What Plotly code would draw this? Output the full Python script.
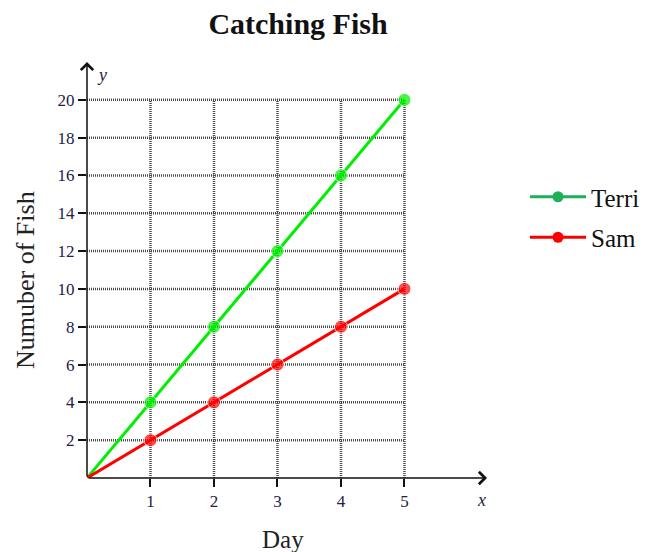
import plotly.graph_objects as go

days = [0, 1, 2, 3, 4, 5]
terri = [0, 4, 8, 12, 16, 20]
sam = [0, 2, 4, 6, 8, 10]
x_ticks = [1, 2, 3, 4, 5]
y_ticks = [2, 4, 6, 8, 10, 12, 14, 16, 18, 20]

SERIF = "Liberation Serif, Times New Roman, serif"
X_MAX, Y_MAX = 6.3, 22.0
GRID_X, GRID_Y = max(x_ticks), max(y_ticks)

# page body has an 8px margin; figure coordinates are shifted accordingly
OFF = 8
W, H = 651 - OFF, 552 - OFF
L, T, R, B = 87 - OFF, 62 - OFF, 487 - OFF, 478 - OFF
PW, PH = R - L, B - T


def px2paper(px, py):
    return (px - OFF - L) / PW, 1 - (py - OFF - T) / PH


fig = go.Figure()

msize = [0] + [13] * (len(days) - 1)
fig.add_trace(go.Scatter(x=days, y=terri, mode="lines+markers", showlegend=False,
                         line=dict(color="#00ee00", width=3),
                         marker=dict(color="#00ee00", size=msize)))
fig.add_trace(go.Scatter(x=days, y=sam, mode="lines+markers", showlegend=False,
                         line=dict(color="#ff0000", width=3),
                         marker=dict(color="#ff0000", size=msize)))
# legend entries
fig.add_trace(go.Scatter(x=[None], y=[None], mode="lines+markers", name="Terri",
                         legendgroup="a",
                         line=dict(color="#1db157", width=3), marker=dict(color="#1db157", size=11)))
fig.add_trace(go.Scatter(x=[None], y=[None], mode="lines+markers", name="Sam",
                         legendgroup="b",
                         line=dict(color="#ff0000", width=3), marker=dict(color="#ff0000", size=11)))

shapes = []
grid_line = dict(color="#4a4a4a", width=2.5, dash="1px,1px")
for xv in x_ticks:
    shapes.append(dict(type="line", xref="x", yref="y", x0=xv, x1=xv, y0=0, y1=GRID_Y,
                       line=grid_line, layer="below"))
for yv in y_ticks:
    shapes.append(dict(type="line", xref="x", yref="y", x0=0, x1=GRID_X, y0=yv, y1=yv,
                       line=grid_line, layer="below"))

ax_x, ax_y = px2paper(481, 500)
ay_x, ay_y = px2paper(102, 75)
day_x, day_y = px2paper(283, 539)
nf_x, nf_y = px2paper(25, 280)

annotations = [
    dict(x=X_MAX, y=0, ax=0, ay=0, xref="x", yref="y", axref="x", ayref="y", text="",
         showarrow=True, arrowhead=4, arrowsize=1.6, arrowwidth=1.5, arrowcolor="#111111"),
    dict(x=0, y=Y_MAX, ax=0, ay=0, xref="x", yref="y", axref="x", ayref="y", text="",
         showarrow=True, arrowhead=4, arrowsize=1.6, arrowwidth=1.5, arrowcolor="#111111"),
    dict(x=ax_x, y=ax_y, xref="paper", yref="paper", text="<i>x</i>",
         xanchor="center", yanchor="middle",
         showarrow=False, font=dict(family=SERIF, size=18, color="#222244")),
    dict(x=ay_x, y=ay_y, xref="paper", yref="paper", text="<i>y</i>",
         xanchor="center", yanchor="middle",
         showarrow=False, font=dict(family=SERIF, size=18, color="#222244")),
    dict(x=day_x, y=day_y, xref="paper", yref="paper", text="Day",
         showarrow=False, font=dict(family=SERIF, size=25, color="#222222"),
         xanchor="center", yanchor="middle"),
    dict(x=nf_x, y=nf_y, xref="paper", yref="paper", text="Numuber of Fish",
         showarrow=False, textangle=-90, font=dict(family=SERIF, size=26, color="#222222"),
         xanchor="center", yanchor="middle"),
]

leg_x, leg_y = px2paper(525, 174)

fig.update_layout(
    width=W, height=H,
    margin=dict(l=L, r=W - R, t=T, b=H - B, autoexpand=False),
    paper_bgcolor="white", plot_bgcolor="white",
    title=dict(text="<b>Catching Fish</b>", x=(298 - OFF) / W, xref="container", xanchor="center",
               y=1 - (23 - OFF) / H, yref="container", yanchor="middle",
               font=dict(family=SERIF, size=30, color="#111111")),
    xaxis=dict(range=[0, X_MAX], tickvals=x_ticks, ticktext=[str(v) for v in x_ticks],
               showgrid=False, zeroline=False, showline=False,
               ticks="outside", ticklen=8, tickwidth=1.5, tickcolor="#111111",
               tickfont=dict(family=SERIF, size=17, color="#222244"), fixedrange=True),
    yaxis=dict(range=[0, Y_MAX], tickvals=y_ticks, ticktext=[str(v) for v in y_ticks],
               showgrid=False, zeroline=False, showline=False,
               ticks="outside", ticklen=8, tickwidth=1.5, tickcolor="#111111",
               tickfont=dict(family=SERIF, size=17, color="#222244"), fixedrange=True),
    legend=dict(x=leg_x, y=leg_y, xanchor="left", yanchor="top",
                font=dict(family=SERIF, size=25, color="#111111"),
                itemwidth=56, tracegroupgap=5, bgcolor="rgba(0,0,0,0)"),
    shapes=shapes,
    annotations=annotations,
)

fig.write_html("out.html")
